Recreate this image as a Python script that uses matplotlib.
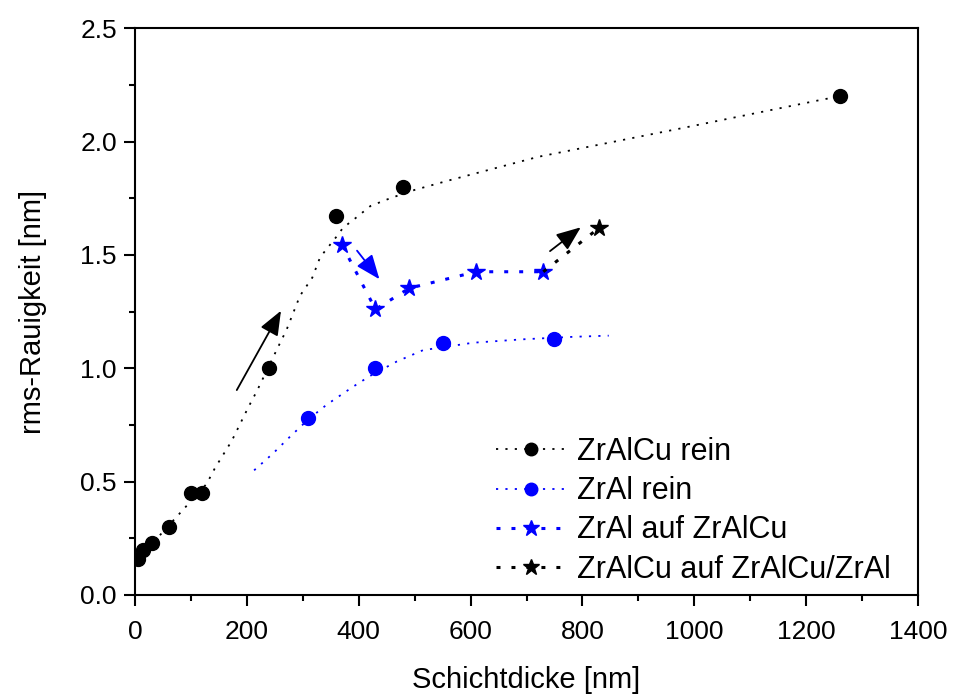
import matplotlib.pyplot as plt
from matplotlib.lines import Line2D
from matplotlib.ticker import MultipleLocator

plt.rcParams['font.family'] = ['Liberation Sans', 'DejaVu Sans']

# ZrAlCu rein: Messpunkte und Fitkurve
zralcu_x = [5, 15, 30, 60, 100, 120, 240, 360, 480, 1260]
zralcu_y = [0.16, 0.20, 0.23, 0.30, 0.45, 0.45, 1.00, 1.67, 1.80, 2.20]
zralcu_fit_x = [0, 45, 80, 128, 143, 173, 203, 218, 256, 271, 295, 317, 331,
                360, 372, 393, 421, 456, 500, 563, 721, 977, 1232, 1262]
zralcu_fit_y = [0.14, 0.265, 0.36, 0.49, 0.56, 0.68, 0.83, 0.90, 1.095, 1.17,
                1.32, 1.40, 1.49, 1.58, 1.62, 1.66, 1.716, 1.75, 1.787, 1.83,
                1.933, 2.059, 2.187, 2.20]

# ZrAl rein: Messpunkte und Fitkurve
zral_x = [310, 430, 550, 750]
zral_y = [0.78, 1.00, 1.11, 1.13]
zral_fit_x = [213, 247, 277, 310, 343, 390, 420, 468, 515, 605, 694, 784, 847]
zral_fit_y = [0.55, 0.625, 0.698, 0.775, 0.84, 0.919, 0.966, 1.03, 1.08,
              1.113, 1.128, 1.139, 1.144]

# ZrAl auf ZrAlCu
stern_blau_x = [370, 430, 490, 610, 730]
stern_blau_y = [1.545, 1.26, 1.353, 1.426, 1.426]

# ZrAlCu auf ZrAlCu/ZrAl (Linie ab letztem blauen Stern)
stern_schwarz_x = [730, 830]
stern_schwarz_y = [1.426, 1.62]

# Pfeile: (Start, Ziel, Farbe)
pfeile = [((182, 0.904), (261, 1.254), 'black'),
          ((397, 1.519), (437, 1.393), 'blue'),
          ((742, 1.517), (797, 1.622), 'black')]

fein = (0, (1.2, 4))
grob = (0, (1.3, 3.6))

fig = plt.figure(figsize=(9.54, 6.95), dpi=100)
ax = fig.add_axes([0.1415, 0.1439, 0.8208, 0.8154])

ax.plot(zralcu_fit_x, zralcu_fit_y, color='black', lw=1.3, ls=fein)
ax.plot(zralcu_x, zralcu_y, 'o', color='black', ms=10, ls='none')
ax.plot(zral_fit_x, zral_fit_y, color='blue', lw=1.3, ls=fein)
ax.plot(zral_x, zral_y, 'o', color='blue', ms=10, ls='none')
ax.plot(stern_blau_x, stern_blau_y, color='blue', lw=2.2, ls=grob,
        marker='*', ms=13)
ax.plot(stern_schwarz_x, stern_schwarz_y, color='black', lw=2.2, ls=grob,
        marker='*', ms=13, markevery=[1])

for (x0, y0), (x1, y1), c in pfeile:
    ax.annotate('', xy=(x1, y1), xytext=(x0, y0),
                arrowprops=dict(arrowstyle='-|>,head_length=0.75,head_width=0.3',
                                color=c, lw=1.3, shrinkA=0, shrinkB=0,
                                mutation_scale=20))

ax.set_xlim(0, 1400)
ax.set_ylim(0, 2.5)
ax.xaxis.set_major_locator(MultipleLocator(200))
ax.xaxis.set_minor_locator(MultipleLocator(100))
ax.yaxis.set_major_locator(MultipleLocator(0.5))
ax.yaxis.set_minor_locator(MultipleLocator(0.25))
ax.yaxis.set_major_formatter(plt.FormatStrFormatter('%.1f'))
ax.tick_params(which='major', direction='out', length=8, width=1.5,
               labelsize=19, pad=5, top=False, right=False)
ax.tick_params(axis='x', which='major', pad=10)
ax.tick_params(which='minor', direction='out', length=4.5, width=1.5,
               top=False, right=False)
for s in ax.spines.values():
    s.set_linewidth(1.5)

ax.set_xlabel('Schichtdicke [nm]', fontsize=21, labelpad=16)
ax.set_ylabel('rms-Rauigkeit [nm]', fontsize=21, labelpad=24)

handles = [
    Line2D([], [], color='black', lw=1.3, ls=fein, marker='o', ms=9),
    Line2D([], [], color='blue', lw=1.3, ls=fein, marker='o', ms=9),
    Line2D([], [], color='blue', lw=2.2, ls=grob, marker='*', ms=12),
    Line2D([], [], color='black', lw=2.2, ls=grob, marker='*', ms=12),
]
labels = ['ZrAlCu rein', 'ZrAl rein', 'ZrAl auf ZrAlCu',
          'ZrAlCu auf ZrAlCu/ZrAl']
ax.legend(handles, labels, loc='lower right', bbox_to_anchor=(0.983, -0.006),
          frameon=False, fontsize=22, handlelength=2.3, handletextpad=0.35,
          labelspacing=0.3, borderaxespad=0.15, borderpad=0.3)

fig.savefig('out.png', dpi=100)
